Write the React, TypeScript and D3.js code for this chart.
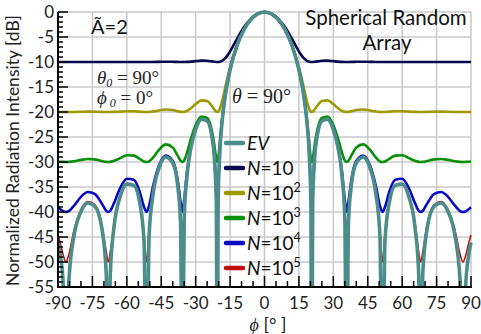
import React from "react";
import * as d3 from "d3";

// azimuth angle phi [deg]
const PHI = [
  -90, -89, -87.7, -86.5, -85.3, -83, -80, -77, -74, -71, -69, -68.1, -67.2, -65.5, -63, -60, -57, -54.5, -52.5, -51.4,
  -50.3, -48.5, -46, -43, -40, -38, -36.6, -35.8, -35, -33.8, -32, -30, -27.5, -25, -23, -21.8, -21, -20.6, -20.2, -19.5,
  -18.5, -17, -15, -12, -9, -6, -3,
  0, 3, 6, 9, 12, 15, 17, 18.5, 19.5, 20.2, 20.6, 21, 21.8, 23, 25, 27.5, 30, 32, 33.8, 35, 35.8, 36.6, 38, 40, 43, 46,
  48.5, 50.3, 51.4, 52.5, 54.5, 57, 60, 63, 65.5, 67.2, 68.1, 69, 71, 74, 77, 80, 83, 85.3, 86.5, 87.7, 89, 90,
];

const EV = [
  -46.07, -48.6, -54.55, -80, -54.08, -44.72, -39.95, -38.21, -38.83, -42.99, -52.08, -80, -52.29, -42.7, -37.09, -34.43, -34.67, -37.83, -45.88, -80,
  -44.74, -36.24, -31.22, -29.03, -30.2, -34.13, -42.04, -80, -41.21, -32.87, -27.02, -23.51, -21.48, -21.8, -24.74, -29.56, -38.35, -80, -37.76, -28.38,
  -22.06, -16.43, -11.56, -6.75, -3.59, -1.54, -0.38,
  0, -0.38, -1.54, -3.59, -6.75, -11.56, -16.43, -22.06, -28.38, -37.76, -80, -38.35, -29.56, -24.74, -21.8, -21.48, -23.51, -27.02, -32.87, -41.21,
  -80, -42.04, -34.13, -30.2, -29.03, -31.22, -36.24, -44.74, -80, -45.88, -37.83, -34.67, -34.43, -37.09, -42.7, -52.29, -80, -52.08, -42.99, -38.83,
  -38.21, -39.95, -44.72, -54.08, -80, -54.55, -48.6, -46.07,
];

const N10 = [
  -10, -10, -10, -10, -10, -10, -10, -10, -10, -10, -10, -10, -10, -10, -10, -9.99, -9.99, -10, -10, -10,
  -10, -9.99, -9.97, -9.95, -9.96, -9.98, -10, -10, -10, -9.98, -9.92, -9.83, -9.73, -9.75, -9.87, -9.96, -9.99, -10, -9.99, -9.94,
  -9.76, -9.19, -7.88, -5.37, -3.07, -1.36, -0.34,
  0, -0.34, -1.36, -3.07, -5.37, -7.88, -9.19, -9.76, -9.94, -9.99, -10, -9.99, -9.96, -9.87, -9.75, -9.73, -9.83, -9.92, -9.98, -10,
  -10, -10, -9.98, -9.96, -9.95, -9.97, -9.99, -10, -10, -10, -10, -9.99, -9.99, -10, -10, -10, -10, -10, -10, -10,
  -10, -10, -10, -10, -10, -10, -10, -10,
];

const N100 = [
  -20, -20, -20, -20, -20, -19.99, -19.96, -19.93, -19.94, -19.98, -20, -20, -20, -19.98, -19.92, -19.85, -19.86, -19.93, -19.99, -20,
  -19.99, -19.9, -19.69, -19.49, -19.61, -19.84, -19.97, -20, -19.97, -19.78, -19.22, -18.41, -17.68, -17.81, -18.76, -19.55, -19.94, -20, -19.93, -19.42,
  -17.91, -14.88, -11.02, -6.59, -3.54, -1.52, -0.37,
  0, -0.37, -1.52, -3.54, -6.59, -11.02, -14.88, -17.91, -19.42, -19.93, -20, -19.94, -19.55, -18.76, -17.81, -17.68, -18.41, -19.22, -19.78, -19.97,
  -20, -19.97, -19.84, -19.61, -19.49, -19.69, -19.9, -19.99, -20, -19.99, -19.93, -19.86, -19.85, -19.92, -19.98, -20, -20, -20, -19.98, -19.94,
  -19.93, -19.96, -19.99, -20, -20, -20, -20, -20,
];

const N1E3 = [
  -29.89, -29.94, -29.98, -30, -29.98, -29.86, -29.58, -29.39, -29.47, -29.79, -29.97, -30, -29.97, -29.77, -29.23, -28.66, -28.73, -29.34, -29.89, -30,
  -29.86, -29.07, -27.56, -26.48, -27.09, -28.58, -29.73, -30, -29.69, -28.19, -25.25, -22.63, -20.91, -21.19, -23.62, -26.77, -29.41, -30, -29.33, -26.11,
  -21.41, -16.25, -11.5, -6.73, -3.59, -1.54, -0.38,
  0, -0.38, -1.54, -3.59, -6.73, -11.5, -16.25, -21.41, -26.11, -29.33, -30, -29.41, -26.77, -23.62, -21.19, -20.91, -22.63, -25.25, -28.19, -29.69,
  -30, -29.73, -28.58, -27.09, -26.48, -27.56, -29.07, -29.86, -30, -29.89, -29.34, -28.73, -28.66, -29.23, -29.77, -29.97, -30, -29.97, -29.79, -29.47,
  -29.39, -29.58, -29.86, -29.98, -30, -29.98, -29.94, -29.89,
];

const N1E4 = [
  -39.04, -39.44, -39.85, -40, -39.83, -38.74, -36.97, -36.0, -36.36, -38.23, -39.74, -40, -39.75, -38.13, -35.3, -33.36, -33.56, -35.77, -39.0, -40,
  -38.74, -34.71, -30.67, -28.69, -29.77, -33.13, -37.89, -40, -37.55, -32.1, -26.81, -23.41, -21.42, -21.73, -24.62, -29.19, -36.08, -40, -35.73, -28.09,
  -21.99, -16.41, -11.55, -6.75, -3.59, -1.54, -0.38,
  0, -0.38, -1.54, -3.59, -6.75, -11.55, -16.41, -21.99, -28.09, -35.73, -40, -36.08, -29.19, -24.62, -21.73, -21.42, -23.41, -26.81, -32.1, -37.55,
  -40, -37.89, -33.13, -29.77, -28.69, -30.67, -34.71, -38.74, -40, -39.0, -35.77, -33.56, -33.36, -35.3, -38.13, -39.75, -40, -39.74, -38.23, -36.36,
  -36.0, -36.97, -38.74, -39.83, -40, -39.85, -39.44, -39.04,
];

const N1E5 = [
  -44.6, -46.23, -48.7, -50, -48.57, -43.6, -39.55, -37.93, -38.51, -42.2, -47.9, -50, -47.99, -41.96, -36.88, -34.31, -34.55, -37.57, -44.46, -50,
  -43.61, -36.06, -31.16, -28.99, -30.15, -34.02, -41.39, -50, -40.68, -32.78, -27.0, -23.5, -21.47, -21.79, -24.73, -29.52, -38.06, -50, -37.51, -28.35,
  -22.05, -16.43, -11.56, -6.75, -3.59, -1.54, -0.38,
  0, -0.38, -1.54, -3.59, -6.75, -11.56, -16.43, -22.05, -28.35, -37.51, -50, -38.06, -29.52, -24.73, -21.79, -21.47, -23.5, -27.0, -32.78, -40.68,
  -50, -41.39, -34.02, -30.15, -28.99, -31.16, -36.06, -43.61, -50, -44.46, -37.57, -34.55, -34.31, -36.88, -41.96, -47.99, -50, -47.9, -42.2, -38.51,
  -37.93, -39.55, -43.6, -48.57, -50, -48.7, -46.23, -44.6,
];

const X_TICKS = [-90, -75, -60, -45, -30, -15, 0, 15, 30, 45, 60, 75, 90];
const Y_TICKS = [0, -5, -10, -15, -20, -25, -30, -35, -40, -45, -50, -55];

const SERIES_ORDER = ["N10", "N100", "N1E3", "N1E4", "N1E5", "EV"];
const SERIES_VALUES: Record<string, number[]> = { EV, N10, N100, N1E3, N1E4, N1E5 };
const SERIES_COLORS: Record<string, string> = {
  EV: "#4b8d8b",
  N10: "#08084e",
  N100: "#9c9a00",
  N1E3: "#0a8f0a",
  N1E4: "#0a0ac4",
  N1E5: "#c01010",
};
const SERIES_WIDTHS: Record<string, number> = { EV: 3.6, N10: 2.6, N100: 2.6, N1E3: 2.6, N1E4: 2.6, N1E5: 1.6 };
const LEGEND_KEYS = ["EV", "N10", "N100", "N1E3", "N1E4", "N1E5"];
const LEGEND_EXP: Record<string, string> = { N10: "", N100: "2", N1E3: "3", N1E4: "4", N1E5: "5" };

const W = 481;
const H = 334;
const L = 58;
const R = 471;
const T = 12;
const B = 287;

export default function App() {
  const x = d3.scaleLinear().domain([-90, 90]).range([L, R]);
  const y = d3.scaleLinear().domain([-55, 0]).range([B, T]);
  const line = d3
    .line<[number, number]>()
    .x((d) => x(d[0]))
    .y((d) => y(d[1]))
    .curve(d3.curveMonotoneX);

  const sans = "Lato, 'Open Sans', sans-serif";
  const serif = "'Liberation Serif', 'DejaVu Serif', serif";

  const minorX = d3.range(-90, 91, 5);
  const minorY = d3.range(-55, 1, 1);

  return (
    <svg
      width={W}
      height={H}
      style={{ position: "fixed", left: 0, top: 0, background: "#fff" }}
    >
      <defs>
        <clipPath id="plotclip">
          <rect x={L} y={T - 2} width={R - L + 2} height={B - T + 2} />
        </clipPath>
      </defs>
      {/* grid */}
      <g stroke="#c9c9c9" strokeWidth={1.5}>
        {X_TICKS.map((t) => (
          <line key={"gx" + t} x1={x(t)} x2={x(t)} y1={y(0)} y2={y(-55)} />
        ))}
        {Y_TICKS.map((t) => (
          <line key={"gy" + t} x1={x(-90)} x2={x(90)} y1={y(t)} y2={y(t)} />
        ))}
      </g>

      {/* curves */}
      <g clipPath="url(#plotclip)" fill="none" strokeLinejoin="round">
        {SERIES_ORDER.map((k) => (
          <path
            key={k}
            d={line(PHI.map((p, i) => [p, SERIES_VALUES[k][i]] as [number, number])) || ""}
            stroke={SERIES_COLORS[k]}
            strokeWidth={SERIES_WIDTHS[k]}
          />
        ))}
      </g>

      {/* axes */}
      <g stroke="#000">
        <line x1={L} x2={L} y1={T} y2={B + 1} strokeWidth={2} />
        <line x1={L - 1} x2={R + 1} y1={B} y2={B} strokeWidth={2} />
        {minorY.map((t) => (
          <line key={"ty" + t} x1={L} x2={L + (t % 5 === 0 ? 10 : 5)} y1={y(t)} y2={y(t)} strokeWidth={1.5} />
        ))}
        {minorX.map((t) => (
          <line key={"tx" + t} x1={x(t)} x2={x(t)} y1={B} y2={B - (t % 15 === 0 ? 11 : 6)} strokeWidth={1.5} />
        ))}
      </g>

      {/* tick labels */}
      <g fontFamily={sans} fontSize={17} fill="#222">
        {Y_TICKS.map((t) => (
          <text key={"ly" + t} x={L - 4} y={y(t) + 5.5} textAnchor="end">
            {t}
          </text>
        ))}
        {X_TICKS.map((t) => (
          <text key={"lx" + t} x={x(t)} y={308.5} textAnchor="middle">
            {t}
          </text>
        ))}
      </g>

      {/* axis titles */}
      <text
        transform={`translate(19,${(T + B) / 2 + 1}) rotate(-90)`}
        textAnchor="middle"
        fontFamily={sans}
        fontSize={17.5}
        fill="#222"
      >
        Normalized Radiation Intensity [dB]
      </text>
      <text x={268} y={331} textAnchor="middle" fontSize={18} fill="#222">
        <tspan fontFamily={serif} fontStyle="italic">ϕ</tspan>
        <tspan fontFamily={sans}> [° ]</tspan>
      </text>

      {/* annotations */}
      <text x={91} y={34} fontFamily={sans} fontSize={20} fill="#111">Ã=2</text>
      <text x={97} y={84} fontFamily={serif} fontSize={19} fill="#222">
        <tspan fontStyle="italic">θ</tspan>
        <tspan fontStyle="italic" fontSize={12} dy={3}>0</tspan>
        <tspan dy={-3}> = 90°</tspan>
      </text>
      <text x={97} y={104} fontFamily={serif} fontSize={19} fill="#222">
        <tspan fontStyle="italic">ϕ</tspan>
        <tspan fontStyle="italic" fontSize={12} dy={3}> 0</tspan>
        <tspan dy={-3}> = 0°</tspan>
      </text>
      <text x={232} y={103} fontFamily={serif} fontSize={20} fill="#222">
        <tspan fontStyle="italic">θ</tspan>
        <tspan> = 90°</tspan>
      </text>
      <text x={386} y={25} textAnchor="middle" fontFamily={sans} fontSize={20.5} fill="#111">Spherical Random</text>
      <text x={387} y={50} textAnchor="middle" fontFamily={sans} fontSize={20.5} fill="#111">Array</text>

      {/* legend */}
      <g fontFamily={sans} fontSize={19} fill="#111">
        {LEGEND_KEYS.map((k, i) => {
          const cy = 143 + i * 25;
          return (
            <g key={"lg" + k}>
              <line x1={226} x2={243} y1={cy} y2={cy} stroke={SERIES_COLORS[k]} strokeWidth={4.5} strokeLinecap="round" />
              {k === "EV" ? (
                <text x={247} y={cy + 7} fontStyle="italic">EV</text>
              ) : (
                <text x={247} y={cy + 7}>
                  <tspan fontStyle="italic">N</tspan>
                  <tspan>=10</tspan>
                  {LEGEND_EXP[k] ? (
                    <tspan fontSize={12.5} dy={-8}>{LEGEND_EXP[k]}</tspan>
                  ) : null}
                </text>
              )}
            </g>
          );
        })}
      </g>
    </svg>
  );
}
